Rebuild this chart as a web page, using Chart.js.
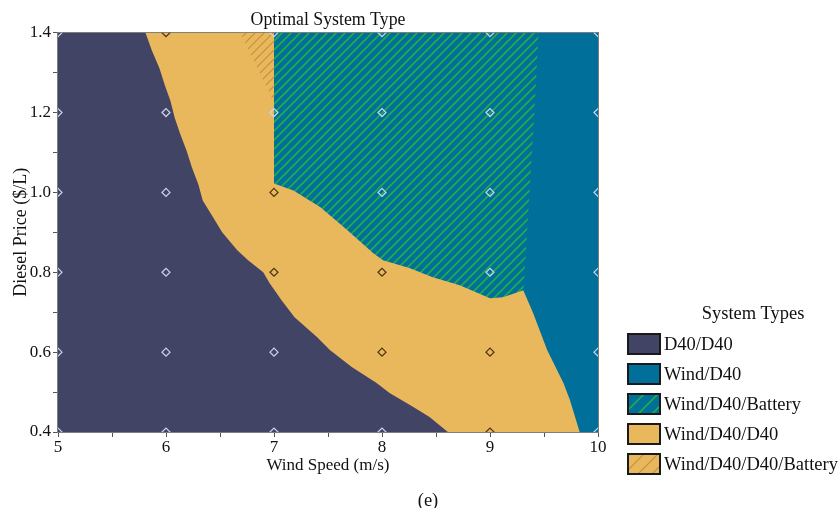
<!DOCTYPE html>
<html>
<head>
<meta charset="utf-8">
<script src="https://cdn.jsdelivr.net/npm/chart.js@4.4.1/dist/chart.umd.min.js"></script>
<style>
  body { margin: 0; background: #fff; font-family: "Liberation Serif", "Times New Roman", serif; color: #111; }
  #wrap { position: relative; width: 840px; height: 508px; }
  .abs { position: absolute; font-size: 18.5px; white-space: nowrap; }
  .swatch { position: absolute; width: 34px; height: 22px; box-sizing: border-box; border: 2px solid #1a1a1a; }
</style>
</head>
<body>
<div id="wrap">
  <canvas id="chart" width="840" height="508"></canvas>
  <div id="legend"></div>
  <div class="abs" style="left:0; width:856px; top:490px; line-height:20px; text-align:center">(e)</div>
</div>
<script>
// grid of simulated cases
const windGrid = [5, 6, 7, 8, 9, 10];
const priceGrid = [0.4, 0.6, 0.8, 1.0, 1.2, 1.4];

// cases marked dark (they sit in the Wind/D40/D40 area)
const darkX = [6, 7, 7, 8, 8, 9, 9];
const darkY = [1.4, 1.0, 0.8, 0.8, 0.6, 0.6, 0.4];

// region outlines (wind speed m/s, diesel price $/L)
const d40X = [5, 5, 8.61, 8.44, 8.29, 8.07, 7.95, 7.72, 7.52, 7.40, 7.19, 7.07, 6.96, 6.90, 6.76, 6.66, 6.52, 6.43, 6.34, 6.30, 6.24, 6.19, 6.13, 6.08, 6.04, 5.99, 5.94, 5.87, 5.81];
const d40Y = [1.4, 0.4, 0.4, 0.4375, 0.4625, 0.4975, 0.5225, 0.5625, 0.605, 0.6375, 0.6875, 0.73, 0.7725, 0.80, 0.83, 0.855, 0.90, 0.94, 0.98, 1.02, 1.0625, 1.105, 1.1475, 1.1875, 1.23, 1.2675, 1.31, 1.355, 1.4];

const windX = [9.3, 9.3, 9.40, 9.53, 9.68, 9.74, 9.83, 10, 10];
const windY = [1.4, 0.76, 0.6975, 0.605, 0.5225, 0.48, 0.4, 0.4, 1.4];

const batteryX = [7, 7, 7.18, 7.43, 7.68, 7.92, 8.01, 8.26, 8.47, 8.72, 9.0, 9.12, 9.31, 9.40, 9.45];
const batteryY = [1.4, 1.0225, 1.005, 0.9625, 0.905, 0.8475, 0.83, 0.81, 0.7875, 0.7675, 0.735, 0.7375, 0.755, 1.1475, 1.4];

const d40d40X = [5, 10, 10, 5];
const d40d40Y = [0.4, 0.4, 1.4, 1.4];

const d40d40BattX = [6.69, 7, 7];
const d40d40BattY = [1.4, 1.225, 1.4];

const systemTypes = ["D40/D40", "Wind/D40", "Wind/D40/Battery", "Wind/D40/D40", "Wind/D40/D40/Battery"];

const navy = "#424466", teal = "#00709b", sand = "#e9b85d";

const pts = (xs, ys) => xs.map((x, i) => ({x, y: ys[i]}));

function hatchCanvas(bg, fg, size, lw) {
    const c = document.createElement("canvas");
    c.width = c.height = size;
    const g = c.getContext("2d");
    g.fillStyle = bg;
    g.fillRect(0, 0, size, size);
    g.strokeStyle = fg;
    g.lineWidth = lw;
    g.beginPath();
    g.moveTo(0, size); g.lineTo(size, 0);
    g.moveTo(-size / 2, size / 2); g.lineTo(size / 2, -size / 2);
    g.moveTo(size / 2, size * 1.5); g.lineTo(size * 1.5, size / 2);
    g.stroke();
    return c;
}

const ctx = document.getElementById("chart").getContext("2d");
const greenHatch = ctx.createPattern(hatchCanvas(teal, "#22ad48", 9, 1.6), "repeat");
const sandHatch = ctx.createPattern(hatchCanvas(sand, "#c0913f", 9, 1.2), "repeat");

const lightPts = [];
windGrid.forEach(x => priceGrid.forEach(y => {
    if (!darkX.some((dx, i) => dx === x && darkY[i] === y)) lightPts.push({x, y});
}));

const region = (label, data, color) => ({
    label, data, backgroundColor: color, fill: "shape", showLine: true,
    borderWidth: 0, pointRadius: 0, pointHoverRadius: 0, clip: 0
});
const markers = (data, color) => ({
    data, showLine: false, pointStyle: "rectRot", pointRadius: 4, pointHoverRadius: 4,
    pointBorderWidth: 1.2, pointBorderColor: color, pointBackgroundColor: "rgba(0,0,0,0)", clip: 0
});

const font = {family: "Liberation Serif", size: 17};

new Chart(ctx, {
    type: "scatter",
    data: {
        datasets: [
            markers(pts(darkX, darkY), "#4a3410"),
            markers(lightPts, "#cdd3ef"),
            region(systemTypes[4], pts(d40d40BattX, d40d40BattY), sandHatch),
            region(systemTypes[2], pts(batteryX, batteryY), greenHatch),
            region(systemTypes[1], pts(windX, windY), teal),
            region(systemTypes[0], pts(d40X, d40Y), navy),
            region(systemTypes[3], pts(d40d40X, d40d40Y), sand)
        ]
    },
    options: {
        responsive: false,
        animation: false,
        events: [],
        layout: {padding: {left: 10, right: 242, top: 0, bottom: 32}},
        plugins: {
            legend: {display: false},
            tooltip: {enabled: false},
            title: {
                display: true,
                text: "Optimal System Type",
                fullSize: false,
                color: "#111",
                font: {family: "Liberation Serif", size: 17.8, weight: "normal"},
                padding: {top: 10, bottom: 1.3}
            }
        },
        scales: {
            x: {
                type: "linear", position: "bottom", min: 5, max: 10,
                afterFit: s => { s.height = 44; },
                ticks: {
                    stepSize: 0.5, autoSkip: false, maxRotation: 0, padding: 0,
                    color: "#111", font,
                    callback: v => Number.isInteger(v) ? v : ""
                },
                grid: {drawOnChartArea: false, tickLength: 5, color: "#555"},
                border: {color: "#7d7d7d", width: 2},
                title: {display: true, text: "Wind Speed (m/s)", color: "#111", font, padding: 0}
            },
            x2: {
                type: "linear", position: "top", min: 5, max: 10,
                afterFit: s => { s.height = 0; },
                ticks: {display: false},
                grid: {display: false, drawTicks: false},
                border: {color: "#7d7d7d", width: 2}
            },
            y: {
                type: "linear", position: "left", min: 0.4, max: 1.4,
                afterFit: s => { s.width = 48; },
                ticks: {
                    stepSize: 0.1, autoSkip: false, padding: 2,
                    color: "#111", font,
                    callback: v => Math.round(v * 10) % 2 === 0 ? v.toFixed(1) : ""
                },
                grid: {drawOnChartArea: false, tickLength: 5, color: "#555"},
                border: {color: "#7d7d7d", width: 2},
                title: {display: true, text: "Diesel Price ($/L)", color: "#111", font: {family: "Liberation Serif", size: 18}, padding: 0}
            },
            y2: {
                type: "linear", position: "right", min: 0.4, max: 1.4,
                afterFit: s => { s.width = 0; },
                ticks: {display: false},
                grid: {display: false, drawTicks: false},
                border: {color: "#7d7d7d", width: 2}
            }
        }
    }
});

// legend
const legend = document.getElementById("legend");
const swatchBg = [
    navy,
    teal,
    `url(${hatchCanvas(teal, "#22ad48", 14, 1.6).toDataURL()})`,
    sand,
    `url(${hatchCanvas(sand, "#c0913f", 14, 1.2).toDataURL()})`
];
let html = `<div class="abs" style="left:653px; width:200px; top:302px; line-height:22px; text-align:center">System Types</div>`;
systemTypes.forEach((name, i) => {
    const top = 333 + i * 30;
    html += `<div class="swatch" style="left:627px; top:${top}px; background:${swatchBg[i]}"></div>`;
    html += `<div class="abs" style="left:664px; top:${top}px; line-height:22px">${name}</div>`;
});
legend.innerHTML = html;
</script>
</body>
</html>
